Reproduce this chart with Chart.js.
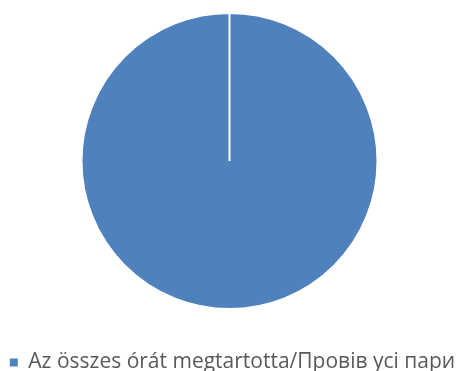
<!DOCTYPE html>
<html><head><meta charset="utf-8">
<script src="https://cdn.jsdelivr.net/npm/chart.js@4/dist/chart.umd.min.js"></script>
<style>html,body{margin:0;padding:0;background:#fff;overflow:hidden}#wrap{width:459px;height:371px;overflow:hidden}</style>
</head><body><div id="wrap"><canvas id="c" width="459" height="383"></canvas></div>
<script>
const categories = ["Az összes órát megtartotta/Провів усі пари"];
const values = [100];
const colors = ["#4F81BD"];
const legendShift = { id: 'legendShift', afterLayout(chart) { chart.legend.left += 6; } };
new Chart(document.getElementById('c'), {
  type: 'pie',
  data: { labels: categories, datasets: [{ data: values, backgroundColor: colors, borderColor: '#ffffff', borderWidth: 2, radius: 148 }] },
  options: {
    responsive: false, animation: false,
    layout: { padding: 0 },
    plugins: {
      tooltip: { enabled: false },
      legend: {
        position: 'bottom',
        labels: {
          boxWidth: 8, boxHeight: 8, padding: 30, color: '#595959',
          font: { family: 'Open Sans', size: 21 },
          generateLabels: (chart) => chart.data.labels.map((t, i) => ({
            text: t, fillStyle: colors[i], strokeStyle: colors[i], lineWidth: 0,
            hidden: false, index: i, fontColor: '#595959'
          }))
        }
      }
    }
  },
  plugins: [legendShift]
});
</script></body></html>
